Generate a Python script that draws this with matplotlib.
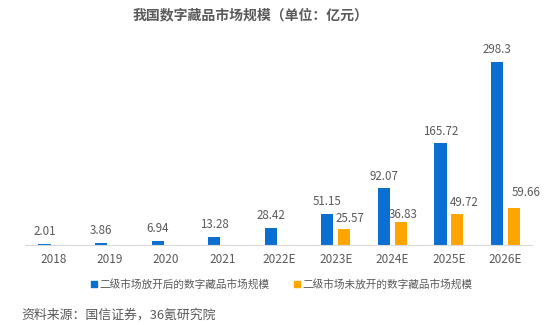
import numpy as np
import matplotlib.pyplot as plt
from matplotlib.lines import Line2D

plt.rcParams['font.family'] = ['Noto Sans CJK SC', 'DejaVu Sans']

years = ['2018', '2019', '2020', '2021', '2022E', '2023E', '2024E', '2025E', '2026E']
open_market = [2.01, 3.86, 6.94, 13.28, 28.42, 51.15, 92.07, 165.72, 298.3]
closed_market = [None, None, None, None, None, 25.57, 36.83, 49.72, 59.66]

blue = '#0A6FD0'
orange = '#FFA500'
grey = '#595959'

fig = plt.figure(figsize=(5.54, 3.25), dpi=100)
ax = fig.add_axes([0.045, 0.2462, 0.915, 0.623])

x = np.arange(len(years))
w = 0.22
ax.bar(x - 0.15, open_market, width=w, color=blue)
for i, v in enumerate(open_market):
    ax.annotate(f'{v:g}', (x[i] - 0.15, v), xytext=(0, 4), textcoords='offset points',
                ha='center', va='bottom', fontsize=8.3, color=grey)

# only the forecast years have the second series
idx = [i for i, v in enumerate(closed_market) if v is not None]
vals = [closed_market[i] for i in idx]
ax.bar(x[idx] + 0.15, vals, width=w, color=orange)
label_shift = [(4, 3), (2, 1), (5, 4), (9, 7)]
for (i, v), (dx, dy) in zip(zip(idx, vals), label_shift):
    ax.annotate(f'{v:g}', (x[i] + 0.15, v), xytext=(dx, dy), textcoords='offset points',
                ha='center', va='bottom', fontsize=8.3, color=grey)

ax.set_xlim(-0.5, 8.47)
ax.set_ylim(0, 330)
ax.set_xticks(x)
ax.set_xticklabels(years, fontsize=8.5, color=grey)
ax.tick_params(axis='x', length=0, pad=6)
ax.set_yticks([])
for s in ['top', 'right', 'left']:
    ax.spines[s].set_visible(False)
ax.spines['bottom'].set_color('#D9D9D9')

fig.text(0.452, 0.953, '我国数字藏品市场规模（单位：亿元）', ha='center', va='center',
         fontsize=10, fontweight='bold', color=grey)

handles = [Line2D([], [], marker='s', ls='', color=blue, markersize=4.5),
           Line2D([], [], marker='s', ls='', color=orange, markersize=4.5)]
fig.legend(handles, ['二级市场放开后的数字藏品市场规模', '二级市场未放开的数字藏品市场规模'],
           loc='center', bbox_to_anchor=(0.508, 0.126), ncol=2, frameon=False,
           fontsize=7.7, labelcolor=grey, handletextpad=0.1, columnspacing=2.2,
           handlelength=0.8)

fig.text(0.038, 0.031, '资料来源：国信证券，36氪研究院', ha='left', va='center',
         fontsize=9.3, color=grey)

fig.savefig('out.png', dpi=100)
